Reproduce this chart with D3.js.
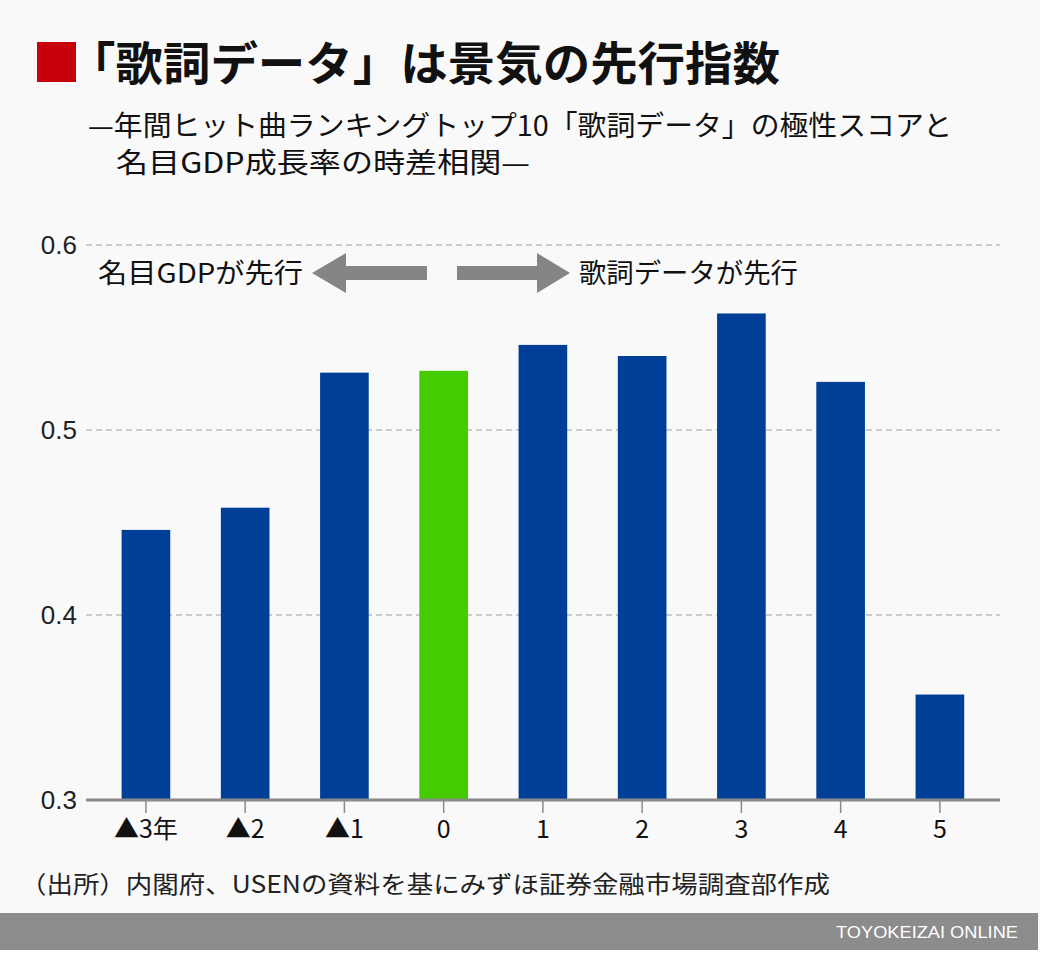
<!DOCTYPE html>
<html>
<head>
<meta charset="utf-8">
<script src="https://cdn.jsdelivr.net/npm/d3@7"></script>
<style>
  html, body { margin: 0; padding: 0; background: #ffffff; }
  svg { display: block; }
</style>
</head>
<body>
<svg id="chart" width="1040" height="955"></svg>
<script>
// ---- data ----
const categories = ["▲3年", "▲2", "▲1", "0", "1", "2", "3", "4", "5"];
const values = [0.446, 0.458, 0.531, 0.532, 0.546, 0.540, 0.563, 0.526, 0.357];
const highlight = ["0"];
const yTicks = [0.3, 0.4, 0.5, 0.6];
const titleText = "「歌詞データ」は景気の先行指数";
const subtitleLines = ["—年間ヒット曲ランキングトップ10「歌詞データ」の極性スコアと", "名目GDP成長率の時差相関—"];
const arrowLabels = ["名目GDPが先行", "歌詞データが先行"];
const sourceText = "（出所）内閣府、USENの資料を基にみずほ証券金融市場調査部作成";
const brandText = "TOYOKEIZAI ONLINE";

const svg = d3.select("#chart");
const JP = "'Noto Sans CJK JP', 'Noto Sans', sans-serif";
const LAT = "'Liberation Sans', Arial, sans-serif";

// background
svg.append("rect").attr("x", 0).attr("y", 0).attr("width", 1040).attr("height", 955).attr("fill", "#f9f9f9");

// title
svg.append("rect").attr("x", 37).attr("y", 42).attr("width", 39).attr("height", 40).attr("fill", "#c8000b");
svg.append("text").attr("x", 68).attr("y", 80)
  .attr("font-family", JP).attr("font-weight", 700).attr("font-size", 46)
  .attr("textLength", 712).attr("lengthAdjust", "spacingAndGlyphs")
  .attr("fill", "#111").text(titleText);

// subtitle
const subX = [88, 116], subY = [136, 173], subLen = [864, 414];
subtitleLines.forEach((s, i) => {
  svg.append("text").attr("x", subX[i]).attr("y", subY[i])
    .attr("font-family", JP).attr("font-size", 28)
    .attr("textLength", subLen[i]).attr("lengthAdjust", "spacingAndGlyphs")
    .attr("fill", "#111").text(s);
});

// scales
const x = d3.scaleBand().domain(categories).range([96.3, 989.5]).paddingInner(0.51).paddingOuter(0.255);
const y = d3.scaleLinear().domain([0.3, 0.6]).range([800, 245]);

// gridlines
svg.append("g").selectAll("line").data(yTicks.filter(t => t > 0.3)).join("line")
  .attr("x1", 86).attr("x2", 1000)
  .attr("y1", d => y(d)).attr("y2", d => y(d))
  .attr("stroke", "#bdbdbd").attr("stroke-width", 1.5).attr("stroke-dasharray", "6,4");

// y axis labels
const yAxis = svg.append("g").attr("transform", "translate(77,0)")
  .call(d3.axisLeft(y).tickValues(yTicks).tickSize(0).tickPadding(0).tickFormat(d3.format(".1f")));
yAxis.select(".domain").remove();
yAxis.selectAll("text").style("font-family", LAT).style("font-size", "26px").attr("fill", "#222");

// bars
svg.append("g").selectAll("rect").data(categories.map((c, i) => ({ c, v: values[i] }))).join("rect")
  .attr("x", d => x(d.c)).attr("width", x.bandwidth())
  .attr("y", d => y(d.v)).attr("height", d => y(0.3) - y(d.v))
  .attr("fill", d => highlight.includes(d.c) ? "#44cc00" : "#003f98");

// x axis
const xAxis = svg.append("g").attr("transform", "translate(0,800)")
  .call(d3.axisBottom(x).tickSize(13).tickPadding(7));
xAxis.select(".domain").remove();
xAxis.selectAll(".tick line").attr("stroke", "#8a8a8a").attr("stroke-width", 1.5);
xAxis.selectAll("text").style("font-family", JP).style("font-size", "25px").attr("fill", "#111");
svg.append("line").attr("x1", 86).attr("x2", 1000).attr("y1", 800).attr("y2", 800)
  .attr("stroke", "#8a8a8a").attr("stroke-width", 3);

// arrows + labels
const arrowY = 273;
const arrowColor = "#858585";
svg.append("path").attr("fill", arrowColor).attr("d",
  `M312,${arrowY} L346,${arrowY - 20} L346,${arrowY - 7} L427,${arrowY - 7} L427,${arrowY + 7} L346,${arrowY + 7} L346,${arrowY + 20} Z`);
svg.append("path").attr("fill", arrowColor).attr("d",
  `M570,${arrowY} L537,${arrowY - 20} L537,${arrowY - 7} L457,${arrowY - 7} L457,${arrowY + 7} L537,${arrowY + 7} L537,${arrowY + 20} Z`);
svg.append("text").attr("x", 98).attr("y", 283)
  .attr("font-family", JP).attr("font-size", 27)
  .attr("textLength", 205).attr("lengthAdjust", "spacingAndGlyphs")
  .attr("fill", "#111").text(arrowLabels[0]);
svg.append("text").attr("x", 579).attr("y", 283)
  .attr("font-family", JP).attr("font-size", 27)
  .attr("textLength", 219).attr("lengthAdjust", "spacingAndGlyphs")
  .attr("fill", "#111").text(arrowLabels[1]);

// source
svg.append("text").attr("x", 20).attr("y", 893)
  .attr("font-family", JP).attr("font-size", 24)
  .attr("textLength", 810).attr("lengthAdjust", "spacingAndGlyphs")
  .attr("fill", "#222").text(sourceText);

// footer band
svg.append("rect").attr("x", 0).attr("y", 913).attr("width", 1038).attr("height", 37).attr("fill", "#8c8c8c");
svg.append("rect").attr("x", 0).attr("y", 950).attr("width", 1040).attr("height", 5).attr("fill", "#ffffff");
svg.append("text").attr("x", 1018).attr("y", 938).attr("text-anchor", "end")
  .attr("font-family", LAT).attr("font-size", 17)
  .attr("textLength", 182).attr("lengthAdjust", "spacingAndGlyphs")
  .attr("fill", "#ffffff").text(brandText);
</script>
</body>
</html>
